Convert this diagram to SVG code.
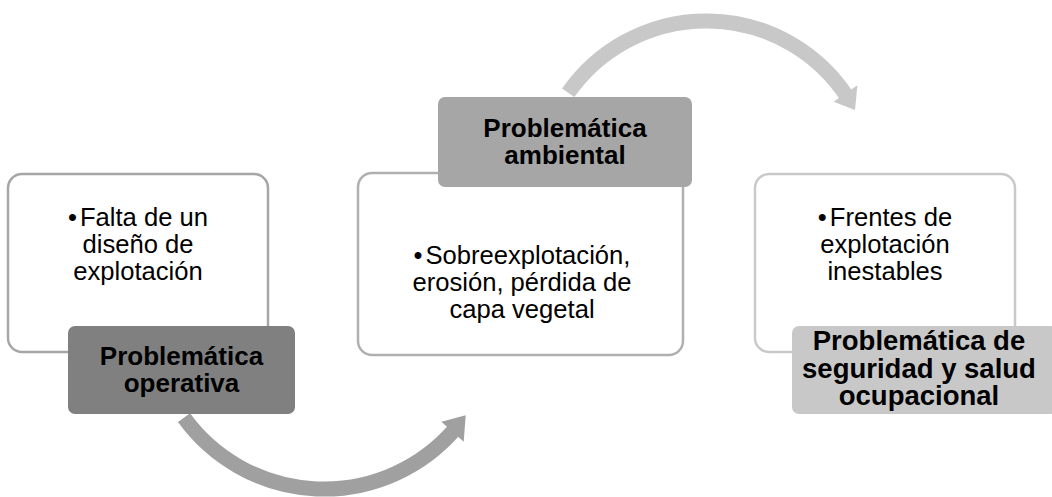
<svg xmlns="http://www.w3.org/2000/svg" width="1052" height="497" viewBox="0 0 1052 497">
<style>
.body{fill:#ffffff;stroke-width:2.5}
.txt{font-family:"Liberation Sans",Arial,sans-serif;font-size:25.6px;fill:#000;text-anchor:middle}
.ttl{font-family:"Liberation Sans",Arial,sans-serif;font-size:26px;font-weight:bold;fill:#000;text-anchor:middle}
.arc{fill:none;stroke-width:15;stroke-linecap:butt}
</style>
<rect width="1052" height="497" fill="#ffffff"/>
<g id="connectors">
<path class="arc" stroke="#a0a0a0" d="M184,417.7 A173,173 0 0 0 454.6,429.5"/>
<polygon fill="#a0a0a0" points="441.4,421.7 465.7,415.2 463.7,441.8"/>
<path class="arc" stroke="#c8c8c8" d="M568.2,92.8 A168.6,168.6 0 0 1 846.9,96.4"/>
<polygon fill="#c8c8c8" points="833.6,101.7 857.4,85.3 855,110.1"/>
</g>
<g id="node-operativa">
<rect class="body" x="8" y="174" width="260" height="178" rx="14" stroke="#a6a6a6"/>
<text class="txt"><tspan x="138" y="226">•<tspan dx="3">Falta de un</tspan></tspan><tspan x="138" y="253">diseño de</tspan><tspan x="138" y="280">explotación</tspan></text>
<rect x="68" y="326" width="227" height="88" rx="7" fill="#808080"/>
<text class="ttl"><tspan x="181.5" y="365">Problemática</tspan><tspan x="181.5" y="392">operativa</tspan></text>
</g>
<g id="node-ambiental">
<rect class="body" x="358" y="173" width="325" height="182" rx="14" stroke="#b0b0b0"/>
<text class="txt"><tspan x="522" y="264">•<tspan dx="3">Sobreexplotación,</tspan></tspan><tspan x="522" y="291">erosión, pérdida de</tspan><tspan x="522" y="318">capa vegetal</tspan></text>
<rect x="438" y="97" width="254" height="90" rx="7" fill="#a6a6a6"/>
<text class="ttl"><tspan x="565" y="137">Problemática</tspan><tspan x="565" y="164">ambiental</tspan></text>
</g>
<g id="node-seguridad">
<rect class="body" x="755" y="174" width="260" height="178" rx="14" stroke="#c9c9c9"/>
<text class="txt"><tspan x="885" y="226">•<tspan dx="3">Frentes de</tspan></tspan><tspan x="885" y="253">explotación</tspan><tspan x="885" y="280">inestables</tspan></text>
<rect x="792" y="326" width="265" height="88" rx="7" fill="#c8c8c8"/>
<text class="ttl" style="font-size:27.5px"><tspan x="919" y="350">Problemática de</tspan><tspan x="919" y="377.5">seguridad y salud</tspan><tspan x="919" y="405">ocupacional</tspan></text>
</g>
</svg>
